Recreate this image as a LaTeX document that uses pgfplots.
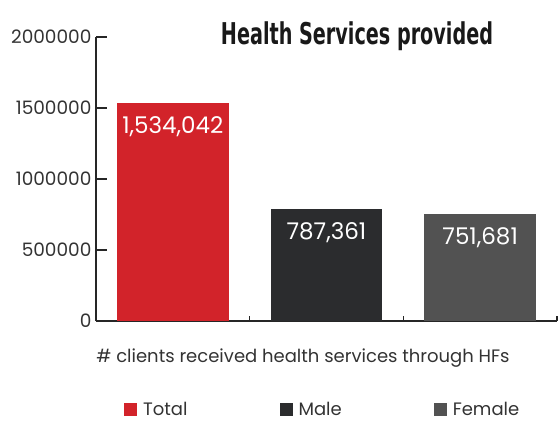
\documentclass[border=0pt]{standalone}
\usepackage{fontspec}
\setmainfont{Poppins}
\newfontfamily\titlefont[FakeStretch=0.64]{DejaVu Sans}
\usepackage{pgfplots}
\pgfplotsset{compat=1.18}
\definecolor{cTotal}{HTML}{D2232A}
\definecolor{cMale}{HTML}{2B2C2E}
\definecolor{cFemale}{HTML}{525252}
\definecolor{txt}{HTML}{333333}
\begin{document}
\begin{tikzpicture}[x=1pt,y=1pt]
\useasboundingbox (0,0) rectangle (559,423);
\begin{axis}[
  at={(96pt,102pt)}, anchor=south west,
  scale only axis, width=461pt, height=284pt,
  xmin=-0.5, xmax=2.5, ymin=0, ymax=2000000,
  axis x line=bottom, axis y line=left,
  axis line style={-, line width=1.6pt, color=black!85},
  ybar, bar shift=0pt, bar width=0.727,
  xtick={0.5,1.5,2.5}, xticklabels={},
  ytick={0,500000,1000000,1500000,2000000},
  yticklabels={0,500000,1000000,1500000,2000000},
  scaled y ticks=false,
  tick align=inside,
  major tick length=11pt,
  tick style={line width=1.6pt, color=black!85},
  x tick style={/pgfplots/major tick length=5pt},
  yticklabel style={font=\fontsize{18.5}{18.5}\selectfont, text=txt, xshift=-1pt},
  nodes near coords, point meta=explicit symbolic,
  every node near coord/.append style={anchor=north, yshift=-10pt, text=white, font=\fontsize{23}{23}\selectfont},
  legend columns=3,
  legend style={draw=none, fill=none, at={(0.054,-0.312)}, anchor=west,
    font=\fontsize{18}{18}\selectfont, text=txt,
    /tikz/every odd column/.append style={column sep=4pt},
    /tikz/every even column/.append style={column sep=90pt}},
  legend image code/.code={\fill[#1] (0pt,-6.5pt) rectangle (13pt,6.5pt);},
]
\addplot[fill=cTotal, draw=none] coordinates {(0,1534042) [1,534,042]};
\addplot[fill=cMale, draw=none] coordinates {(1,787361) [787,361]};
\addplot[fill=cFemale, draw=none] coordinates {(2,751681) [751,681]};
\legend{Total,Male,Female}
\end{axis}
\node[anchor=base, font=\titlefont\bfseries\fontsize{30}{30}\selectfont, text=black!90] at (357,378) {Health Services provided};
\node[anchor=base, font=\fontsize{18}{18}\selectfont, text=txt] at (303,61) {\# clients received health services through HFs};
\end{tikzpicture}
\end{document}
